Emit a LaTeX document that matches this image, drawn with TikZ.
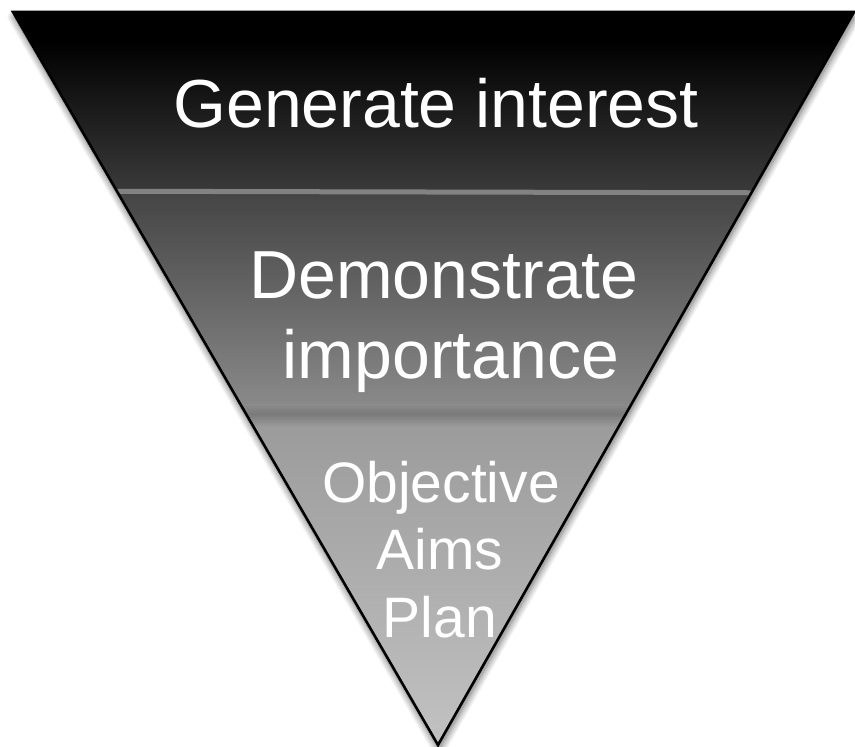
\documentclass[tikz,border=0pt]{standalone}
\usepackage{fontspec}
\setmainfont{Liberation Sans}
\usetikzlibrary{shadows.blur}
\definecolor{bandAtop}{HTML}{000000}
\definecolor{bandAbot}{HTML}{3A3A3A}
\definecolor{bandBtop}{HTML}{444444}
\definecolor{bandBbot}{HTML}{8C8C8C}
\definecolor{bandCtop}{HTML}{9A9A9A}
\definecolor{bandCbot}{HTML}{C2C2C2}
\definecolor{sepcol}{HTML}{828282}
\definecolor{sepcoltwo}{HTML}{7A7A7A}
\tikzset{
  lbl/.style={text=white, anchor=base, inner sep=0pt},
  bigtxt/.style={lbl, font=\fontsize{68}{80}\selectfont},
  smalltxt/.style={lbl, font=\fontsize{57}{66}\selectfont},
}
\begin{document}
\begin{tikzpicture}[x=1pt,y=-1pt]
\useasboundingbox (0,0) rectangle (855,747);
\coordinate (tl) at (13,12);
\coordinate (tr) at (854,12);
\coordinate (ap) at (438,745);
% shadow
\fill[white, blur shadow={shadow xshift=1pt, shadow yshift=-5pt, shadow blur steps=14, shadow blur radius=7pt, shadow opacity=60}] (tl) -- (tr) -- (ap) -- cycle;
\begin{scope}
  \clip (tl) -- (tr) -- (ap) -- cycle;
  \fill[black] (0,12) rectangle (855,40);
  \shade[top color=bandAtop, bottom color=bandAbot] (0,40) rectangle (855,191);
  \shade[top color=bandBtop, bottom color=bandBbot] (0,191) rectangle (855,414);
  \shade[top color=bandCtop, bottom color=bandCbot] (0,414) rectangle (855,746);
  \draw[sepcol, line width=5pt] (0,191) -- (855,193);
  \shade[top color=bandBbot, bottom color=sepcoltwo] (0,404) rectangle (855,414);
  \shade[top color=sepcoltwo, bottom color=bandCtop] (0,414) rectangle (855,426);
\end{scope}
\draw[black, line width=2.6pt, line join=miter] (tl) -- (tr) -- (ap) -- cycle;
\node[bigtxt] (gen) at (436,127) {Generate interest};
\node[bigtxt] (dem) at (444,298) {Demonstrate};
\node[bigtxt] (imp) at (451,378) {importance};
\node[smalltxt] (obj) at (441,502) {Objective};
\node[smalltxt] (aims) at (440,569) {Aims};
\node[smalltxt] (plan) at (440,637) {Plan};
\end{tikzpicture}
\end{document}
